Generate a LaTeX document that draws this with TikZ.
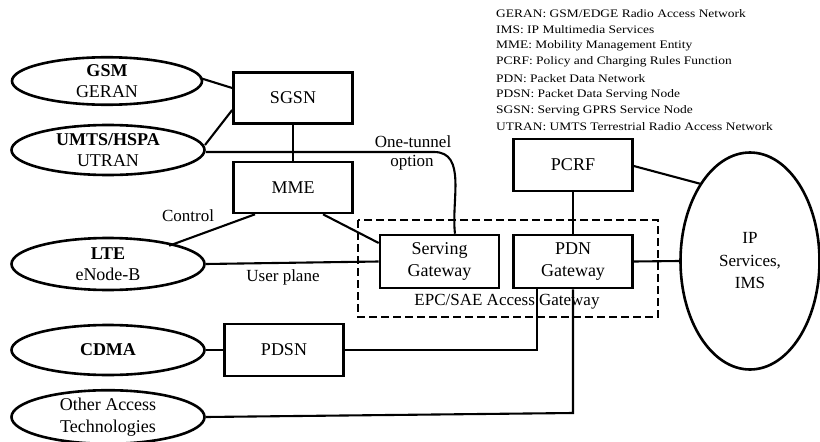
\documentclass[tikz,border=0pt]{standalone}
\usepackage{fontspec}
\setmainfont{Liberation Serif}
\newfontfamily\legfont[FakeStretch=1.17]{Liberation Serif}
\usetikzlibrary{shapes.geometric}
\tikzset{
  boxn/.style={draw, line width=2.6pt, minimum width=119pt, minimum height=51pt, inner sep=0pt, align=center, font=\fontsize{18}{21.5}\selectfont},
  elln/.style={draw, ellipse, line width=2.6pt, minimum width=193pt, minimum height=50pt, inner sep=0pt, align=center, font=\fontsize{18}{21.5}\selectfont},
  conn/.style={line width=2.1pt},
  lbl/.style={inner sep=0pt, font=\fontsize{17}{21}\selectfont, align=center},
  leg/.style={inner sep=0pt, anchor=west, font=\legfont\fontsize{11.5}{13}\selectfont}
}
\begin{document}
\begin{tikzpicture}[x=1pt, y=-1pt]
\useasboundingbox (0,0) rectangle (820,442);
% ellipses
\node[elln, minimum width=190pt, minimum height=42pt] (gsm) at (107,81) {\textbf{GSM}\\GERAN};
\node[elln] (umts) at (108,150) {\textbf{UMTS/HSPA}\\UTRAN};
\node[elln, minimum height=52pt] (lte) at (108,264) {\textbf{LTE}\\eNode-B};
\node[elln] (cdma) at (108,350) {\textbf{CDMA}};
\node[elln] (other) at (108,417) {Other Access\\Technologies};
\node[elln, minimum width=139pt, minimum height=217pt, font=\fontsize{17}{22.5}\selectfont] (ip) at (750,261) {IP\\Services,\\IMS};
% boxes
\node[boxn] (sgsn) at (293,98) {SGSN};
\node[boxn] (mme) at (293,187.5) {MME};
\node[boxn, minimum height=53pt] (sgw) at (439.5,261.5) {Serving\\Gateway};
\node[boxn, minimum height=53pt] (pgw) at (573,261.5) {PDN\\Gateway};
\node[boxn, minimum height=52pt] (pcrf) at (573,165) {PCRF};
\node[boxn, minimum height=52pt] (pdsn) at (284,350) {PDSN};
% dashed box
\draw[line width=2.6pt, dash pattern=on 8pt off 4pt] (358,220) rectangle (658,317);
\node[lbl] (epc) at (507,302) {EPC/SAE Access Gateway};
% connectors
\draw[conn] (200,78) -- (sgsn.west |- 0,88);
\draw[conn] (205,145) -- (sgsn.west |- 0,110);
\draw[conn] (sgsn.south) -- (mme.north);
\coordinate (tun) at (434,152);
\draw[conn] (umts.east) ++(0,2) -- (tun) to[out=0,in=97] (sgw.north -| 455,0);
\draw[conn] (lte.north east) ++(-8,1) coordinate (lc) -- (mme.south -| 255,0);
\draw[conn] (mme.south -| 323,0) -- (sgw.west |- 0,243);
\draw[conn] (lte.east) -- (sgw.west);
\draw[conn] (pcrf.south) -- (pgw.north);
\draw[conn] (pcrf.east |- 0,166) -- (ip.123);
\draw[conn] (pgw.east) -- (ip.west);
\draw[conn] (cdma.east) -- (pdsn.west);
\draw[conn] (pdsn.east) -- (537,350) -- (pgw.south -| 537,0);
\draw[conn] (other.east) -- (573,413) -- (pgw.south);
% labels
\node[lbl] (ctl) at (188,216) {Control};
\node[lbl] (up) at (283,277) {User plane};
\node[lbl] (one) at (413,142) {One-tunnel};
\node[lbl] (opt) at (412,163) {option};
% legend
\node[leg] (l1) at (496,13.5) {GERAN: GSM/EDGE Radio Access Network};
\node[leg] (l2) at (496,29.7) {IMS: IP Multimedia Services};
\node[leg] (l3) at (496,45.9) {MME: Mobility Management Entity};
\node[leg] (l4) at (496,62.1) {PCRF: Policy and Charging Rules Function};
\node[leg] (l5) at (496,78.3) {PDN: Packet Data Network};
\node[leg] (l6) at (496,94.5) {PDSN: Packet Data Serving Node};
\node[leg] (l7) at (496,110.7) {SGSN: Serving GPRS Service Node};
\node[leg] (l8) at (496,126.9) {UTRAN: UMTS Terrestrial Radio Access Network};
\end{tikzpicture}
\end{document}
